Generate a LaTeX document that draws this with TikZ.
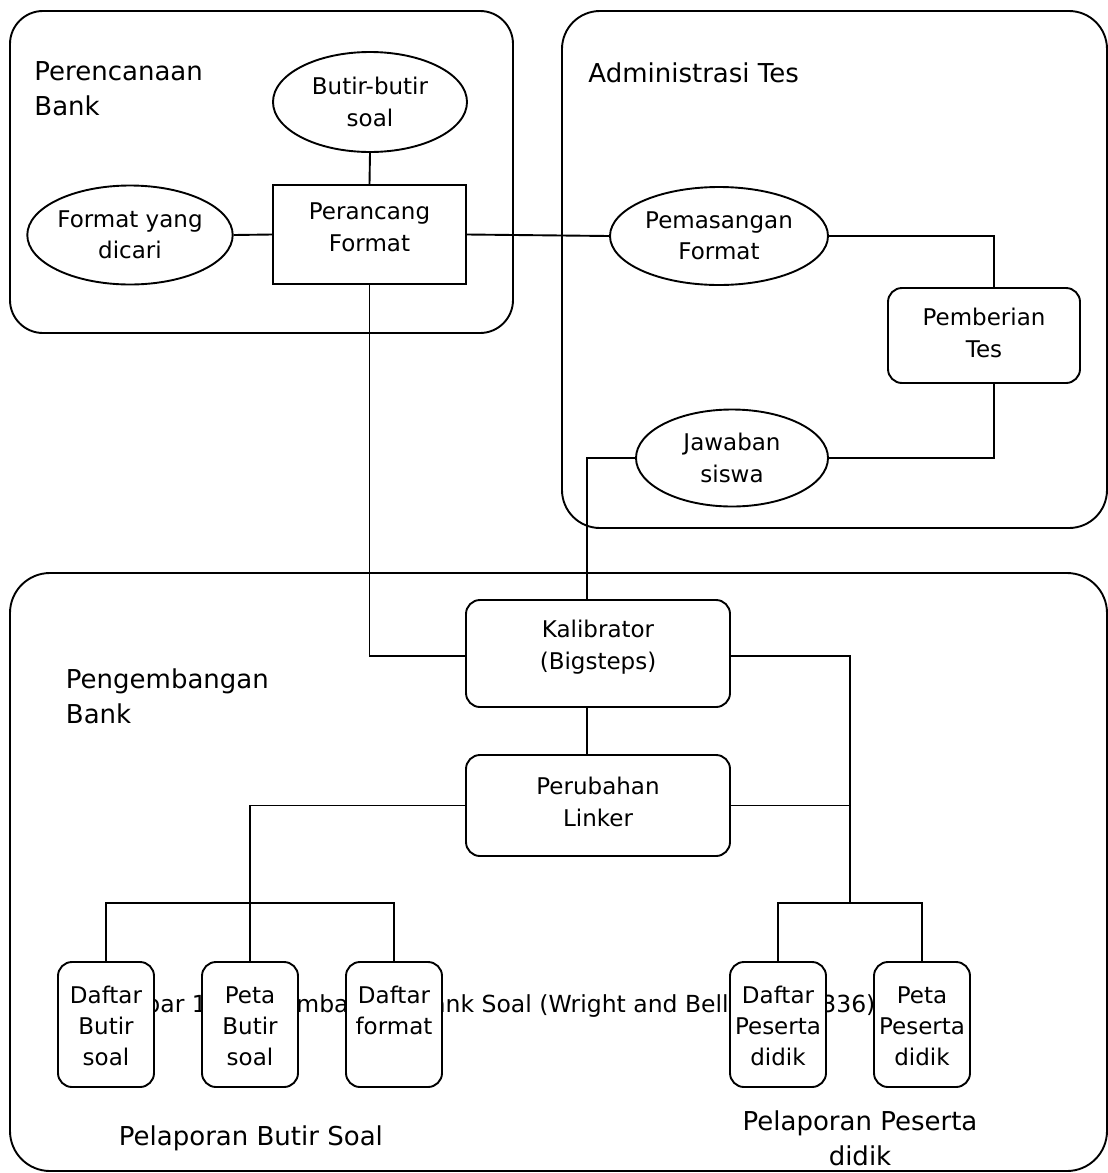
\documentclass[tikz,border=0pt]{standalone}
\usepackage{fontspec}
\setmainfont{DejaVu Sans}
\usetikzlibrary{shapes.geometric}
\begin{document}
\begin{tikzpicture}[x=1pt,y=-1pt,line width=1.9pt,
  container/.style={draw, rectangle, inner sep=0pt},
  ell/.style={draw, ellipse, fill=white, inner sep=0pt, align=center, font=\fontsize{23}{31.5}\selectfont},
  sq/.style={draw, rectangle, fill=white, inner sep=0pt},
  rbox/.style={draw, rectangle, rounded corners=14pt, fill=white, inner sep=0pt},
  boxtxt/.style={anchor=north, inner sep=0pt, align=center, font=\fontsize{23}{31.5}\selectfont},
  ttxt/.style={anchor=north, inner sep=0pt, align=center, font=\fontsize{23}{31}\selectfont},
  tallbox/.style={rbox, minimum width=96pt, minimum height=125pt},
  title/.style={inner sep=0pt, align=left, anchor=north west, font=\fontsize{26}{35}\selectfont},
  captxt/.style={inner sep=0pt, anchor=base west, font=\fontsize{23.5}{30}\selectfont}
]
\useasboundingbox (0,0) rectangle (1108,1173);

% containers
\node[container, rounded corners=33pt, minimum width=503pt, minimum height=322pt] (plan) at (261.5,172) {};
\node[container, rounded corners=38pt, minimum width=545pt, minimum height=517pt] (admin) at (834.5,269.5) {};
\node[container, rounded corners=40pt, minimum width=1097pt, minimum height=598pt] (dev) at (558.5,872) {};

% container titles
\node[title] (tplan) at (33.5,60.3) {Perencanaan\\Bank};
\node[title] (tadmin) at (587.5,62) {Administrasi Tes};
\node[title] (tdev) at (65,668.2) {Pengembangan\\Bank};
\node[title] (tpbs) at (118,1125.2) {Pelaporan Butir Soal};
\node[title, align=center, anchor=north] (tpps) at (860,1110.2) {Pelaporan Peserta\\didik};

% caption (partly hidden behind boxes)
\node[captxt] (cap) at (89,1012) {Gambar 1. Pengembangan Bank Soal (Wright and Bell, 1984: 336)};

% planning nodes
\node[ell, minimum width=194pt, minimum height=100pt] (bs) at (370,102) {Butir-butir\\soal};
\node[ell, minimum width=194pt, minimum height=99pt] (fy) at (130,235) {Format yang\\dicari};
\node[sq, minimum width=193pt, minimum height=99pt,
      label={[boxtxt, yshift=-18pt]north:Perancang\\Format}] (pf) at (369.5,234.5) {};

% administration nodes
\node[ell, minimum width=218pt, minimum height=98pt] (pm) at (719,236) {Pemasangan\\Format};
\node[rbox, minimum width=192pt, minimum height=95pt,
      label={[boxtxt, yshift=-20.5pt]north:Pemberian\\Tes}] (pt) at (984,335.5) {};
\node[ell, minimum width=192pt, minimum height=97pt] (js) at (732,458) {Jawaban\\siswa};

% development nodes
\node[rbox, minimum width=264pt, minimum height=107pt,
      label={[boxtxt, yshift=-20.5pt]north:Kalibrator\\(Bigsteps)}] (kb) at (598,653.5) {};
\node[rbox, minimum width=264pt, minimum height=101pt,
      label={[boxtxt, yshift=-22.5pt]north:Perubahan\\Linker}] (pl) at (598,805.5) {};

\coordinate (lj) at (250,903);
\coordinate (rj) at (850,903);

% connectors
\draw (bs.south) -- (pf.north);
\draw (fy.east) -- (pf.west);
\draw (pf.east) -- (pm.west);
\draw (pm.east) -| ([xshift=10pt]pt.north);
\draw ([xshift=10pt]pt.south) |- (js.east);
\draw (js.west) -| ([xshift=-11pt]kb.north);
\draw (pf.south) |- ([yshift=-2.5pt]kb.west);
\draw ([xshift=-11pt]kb.south) -- ([xshift=-11pt]pl.north);
\draw ([yshift=-2.5pt]kb.east) -| (rj);
\draw (pl.east) -- (pl.east -| rj);
\draw (pl.west) -| (lj);

% report boxes
\node[tallbox, label={[ttxt, yshift=-24.5pt]north:Daftar\\Butir\\soal}] (db) at (106,1024.5) {};
\node[tallbox, label={[ttxt, yshift=-25pt]north:Peta\\Butir\\soal}] (pb) at (250,1024.5) {};
\node[tallbox, label={[ttxt, yshift=-24.5pt]north:Daftar\\format}] (df) at (394,1024.5) {};
\node[tallbox, label={[ttxt, yshift=-24.5pt]north:Daftar\\Peserta\\didik}] (dp) at (778,1024.5) {};
\node[tallbox, label={[ttxt, yshift=-25pt]north:Peta\\Peserta\\didik}] (pp) at (922,1024.5) {};

\draw (db.north) |- (lj) -| (df.north);
\draw (lj) -- (pb.north);
\draw (dp.north) |- (rj) -| (pp.north);
\end{tikzpicture}
\end{document}
